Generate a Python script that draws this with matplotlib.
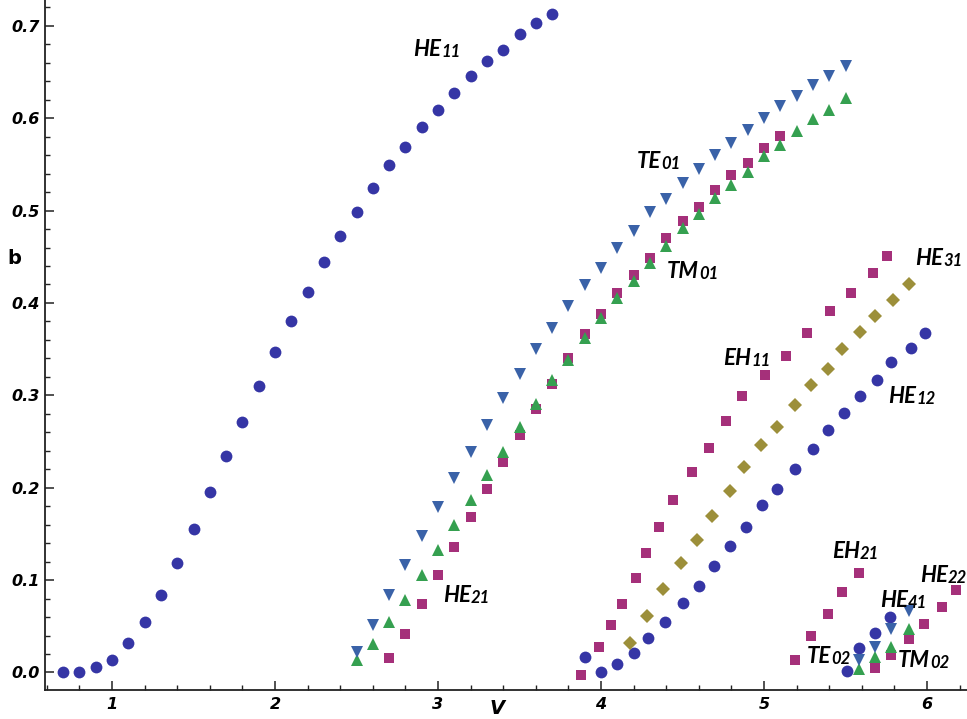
import matplotlib
matplotlib.use("Agg")
import matplotlib.pyplot as plt
from matplotlib.ticker import MultipleLocator, FormatStrFormatter

# normalized frequency V and propagation constant b
v_he11 = [0.7, 0.8, 0.9, 1.0, 1.1, 1.2, 1.3, 1.4, 1.5, 1.6, 1.7, 1.8, 1.9, 2.0, 2.1, 2.2,
          2.3, 2.4, 2.5, 2.6, 2.7, 2.8, 2.9, 3.0, 3.1, 3.2, 3.3, 3.4, 3.5, 3.6, 3.7]
b_he11 = [0.000, 0.000, 0.006, 0.013, 0.032, 0.055, 0.084, 0.119, 0.155, 0.195, 0.234,
          0.271, 0.310, 0.347, 0.381, 0.412, 0.444, 0.473, 0.499, 0.525, 0.549, 0.569,
          0.591, 0.609, 0.627, 0.646, 0.662, 0.674, 0.691, 0.703, 0.713]

v_te01 = [2.5, 2.6, 2.7, 2.8, 2.9, 3.0, 3.1, 3.2, 3.3, 3.4, 3.5, 3.6, 3.7, 3.8, 3.9, 4.0,
          4.1, 4.2, 4.3, 4.4, 4.5, 4.6, 4.7, 4.8, 4.9, 5.0, 5.1, 5.2, 5.3, 5.4, 5.5]
b_te01 = [0.022, 0.051, 0.084, 0.116, 0.148, 0.179, 0.210, 0.239, 0.268, 0.297, 0.323,
          0.350, 0.373, 0.397, 0.419, 0.438, 0.460, 0.478, 0.498, 0.513, 0.530, 0.545,
          0.560, 0.573, 0.587, 0.600, 0.613, 0.624, 0.636, 0.646, 0.657]

v_tm01 = v_te01
b_tm01 = [0.013, 0.031, 0.055, 0.078, 0.105, 0.133, 0.160, 0.187, 0.214, 0.239, 0.266,
          0.291, 0.317, 0.338, 0.362, 0.384, 0.405, 0.424, 0.443, 0.462, 0.481, 0.496,
          0.514, 0.528, 0.542, 0.559, 0.571, 0.586, 0.599, 0.609, 0.622]

v_he21 = [2.7, 2.8, 2.9, 3.0, 3.1, 3.2, 3.3, 3.4, 3.5, 3.6, 3.7, 3.8, 3.9, 4.0,
          4.1, 4.2, 4.3, 4.4, 4.5, 4.6, 4.7, 4.8, 4.9, 5.0, 5.1]
b_he21 = [0.016, 0.042, 0.074, 0.105, 0.136, 0.168, 0.199, 0.228, 0.257, 0.285, 0.312,
          0.340, 0.366, 0.388, 0.411, 0.430, 0.449, 0.470, 0.489, 0.504, 0.522, 0.539,
          0.552, 0.568, 0.581]

v_eh11 = [3.875, 3.99, 4.061, 4.131, 4.213, 4.276, 4.358, 4.444, 4.556, 4.663, 4.767,
          4.863, 5.006, 5.133, 5.263, 5.405, 5.532, 5.667, 5.757]
b_eh11 = [-0.003, 0.028, 0.051, 0.074, 0.102, 0.129, 0.158, 0.187, 0.217, 0.243, 0.272,
          0.299, 0.322, 0.343, 0.368, 0.391, 0.411, 0.432, 0.451]

v_he31 = [4.18, 4.28, 4.38, 4.49, 4.59, 4.68, 4.79, 4.88, 4.98, 5.08, 5.19, 5.29, 5.39,
          5.48, 5.59, 5.68, 5.79, 5.89]
b_he31 = [0.032, 0.061, 0.090, 0.118, 0.143, 0.169, 0.196, 0.222, 0.246, 0.266, 0.290,
          0.311, 0.329, 0.350, 0.369, 0.386, 0.403, 0.421]

v_he12 = [3.9, 4.0, 4.1, 4.2, 4.29, 4.39, 4.5, 4.6, 4.69, 4.79, 4.89, 4.99, 5.08, 5.19,
          5.3, 5.39, 5.49, 5.59, 5.69, 5.78, 5.9, 5.99]
b_he12 = [0.017, 0.000, 0.009, 0.021, 0.037, 0.055, 0.075, 0.094, 0.115, 0.137, 0.158,
          0.181, 0.199, 0.220, 0.242, 0.263, 0.281, 0.299, 0.317, 0.336, 0.351, 0.367]

v_eh21 = [5.19, 5.29, 5.39, 5.48, 5.58]
b_eh21 = [0.014, 0.039, 0.063, 0.087, 0.108]

v_he41 = [5.51, 5.58, 5.68, 5.77]
b_he41 = [0.002, 0.027, 0.043, 0.060]

v_te02 = [5.58, 5.68, 5.78, 5.89]
b_te02 = [0.014, 0.028, 0.047, 0.066]

v_tm02 = [5.58, 5.68, 5.78, 5.89]
b_tm02 = [0.004, 0.017, 0.028, 0.047]

v_he22 = [5.68, 5.78, 5.89, 5.98, 6.09, 6.18]
b_he22 = [0.005, 0.019, 0.036, 0.052, 0.071, 0.089]

# label text, subscript, left x, baseline y
labels = [
    ("HE", "11", 2.847, 0.667),
    ("TE", "01", 4.221, 0.546),
    ("TM", "01", 4.405, 0.427),
    ("HE", "21", 3.031, 0.076),
    ("EH", "11", 4.748, 0.333),
    ("HE", "31", 5.926, 0.441),
    ("HE", "12", 5.761, 0.292),
    ("EH", "21", 5.417, 0.124),
    ("HE", "22", 5.957, 0.098),
    ("HE", "41", 5.712, 0.071),
    ("TE", "02", 5.264, 0.010),
    ("TM", "02", 5.822, 0.006),
]

c_circ = "#3535a5"
c_sq = "#a5307a"
c_dia = "#9c8f3a"
c_up = "#35a050"
c_down = "#3a62a8"

fig = plt.figure(figsize=(9.67, 7.19), dpi=100)
ax = fig.add_axes([45 / 967, 29 / 719, 922 / 967, 690 / 719])

mk = dict(linestyle="none", markeredgewidth=0)
ax.plot(v_he11, b_he11, "o", ms=8.5, color=c_circ, **mk)
ax.plot(v_he12, b_he12, "o", ms=8.5, color=c_circ, **mk)
ax.plot(v_he41, b_he41, "o", ms=8.5, color=c_circ, **mk)
ax.plot(v_he21, b_he21, "s", ms=7, color=c_sq, **mk)
ax.plot(v_eh11, b_eh11, "s", ms=7, color=c_sq, **mk)
ax.plot(v_eh21, b_eh21, "s", ms=7, color=c_sq, **mk)
ax.plot(v_he22, b_he22, "s", ms=7, color=c_sq, **mk)
ax.plot(v_he31, b_he31, "D", ms=6.8, color=c_dia, **mk)
ax.plot(v_tm01, b_tm01, "^", ms=8, color=c_up, **mk)
ax.plot(v_tm02, b_tm02, "^", ms=8, color=c_up, **mk)
ax.plot(v_te01, b_te01, "v", ms=8, color=c_down, **mk)
ax.plot(v_te02, b_te02, "v", ms=8, color=c_down, **mk)

for name, sub, x, y in labels:
    t = ax.text(x, y, name, fontsize=16, fontweight="bold", fontstyle="italic",
                family="Lato", ha="left", va="baseline")
    ax.annotate(sub, xy=(1, 0), xycoords=t, fontsize=12, fontweight="bold",
                fontstyle="italic", family="Lato", ha="left", va="bottom")

ax.set_xlim(0.589, 6.245)
ax.set_ylim(-0.019, 0.728)

for s in ["top", "right"]:
    ax.spines[s].set_visible(False)
for s in ["left", "bottom"]:
    ax.spines[s].set_color("#222222")
    ax.spines[s].set_linewidth(1.3)

ax.xaxis.set_major_locator(MultipleLocator(1))
ax.xaxis.set_minor_locator(MultipleLocator(0.2))
ax.yaxis.set_major_locator(MultipleLocator(0.1))
ax.yaxis.set_minor_locator(MultipleLocator(0.02))
ax.yaxis.set_major_formatter(FormatStrFormatter("%.1f"))
ax.xaxis.set_major_formatter(FormatStrFormatter("%d"))
ax.tick_params(which="major", direction="in", length=6.5, width=1.1, color="#222222")
ax.tick_params(which="minor", direction="in", length=3.5, width=1.0, color="#222222")
ax.tick_params(axis="y", which="major", pad=4)
ax.tick_params(axis="x", which="major", pad=5)
for lab in ax.get_xticklabels() + ax.get_yticklabels():
    lab.set_fontsize(11.5)
    lab.set_fontweight("bold")
    lab.set_fontstyle("italic")
    lab.set_family("DejaVu Sans")

fig.text(14 / 967, 1 - 258 / 719, "b", fontsize=14, fontweight="bold",
         ha="center", va="center")
fig.text(497 / 967, 1 - 708 / 719, "V", fontsize=14, fontweight="bold",
         fontstyle="italic", ha="center", va="center")

fig.savefig("out.png", dpi=100)
